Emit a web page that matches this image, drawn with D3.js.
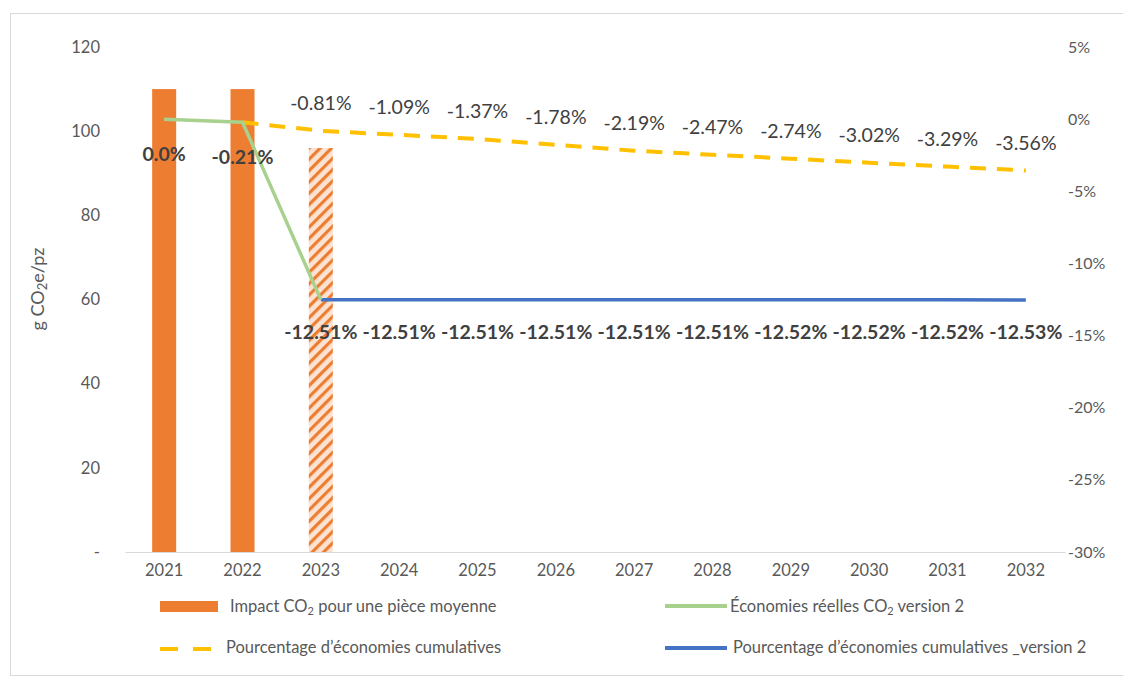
<!DOCTYPE html>
<html>
<head>
<meta charset="utf-8">
<script src="https://cdn.jsdelivr.net/npm/d3@7"></script>
<style>
  body { margin: 0; background: #fff; }
  svg { display: block; font-family: Lato, 'Open Sans', sans-serif; }
</style>
</head>
<body>
<svg id="chart" width="1123" height="681"></svg>
<script>
// data
const years = ['2021', '2022', '2023', '2024', '2025', '2026', '2027', '2028', '2029', '2030', '2031', '2032']
const impactYears = ['2021', '2022', '2023']
const impactValues = [110, 110, 96]
const realYears = ['2021', '2022', '2023']
const realSavings = [0.0, -0.21, -12.51]
const realLabels = ['0.0%', '-0.21%']
const cumulYears = ['2022', '2023', '2024', '2025', '2026', '2027', '2028', '2029', '2030', '2031', '2032']
const cumulSavings = [-0.21, -0.81, -1.09, -1.37, -1.78, -2.19, -2.47, -2.74, -3.02, -3.29, -3.56]
const cumul2Years = ['2023', '2024', '2025', '2026', '2027', '2028', '2029', '2030', '2031', '2032']
const cumul2Savings = [-12.51, -12.51, -12.51, -12.51, -12.51, -12.51, -12.52, -12.52, -12.52, -12.53]
const leftTicks = [0, 20, 40, 60, 80, 100, 120]
const rightTicks = [5, 0, -5, -10, -15, -20, -25, -30]

const ORANGE = '#ED7D31'
const GREEN = '#A9D18E'
const YELLOW = '#FFC000'
const BLUE = '#4472C4'
const TICK = '#595959'
const LABEL = '#404040'

const svg = d3.select('#chart')
const margin = { top: 47, right: 58, bottom: 129, left: 125 }
const width = 1123 - margin.left - margin.right
const height = 681 - margin.top - margin.bottom

// chart frame
svg.append('rect')
  .attr('x', 10.5).attr('y', 13.5)
  .attr('width', 1130).attr('height', 662)
  .attr('fill', 'none').attr('stroke', '#d9d9d9')

const defs = svg.append('defs')
const pat = defs.append('pattern')
  .attr('id', 'hatch')
  .attr('patternUnits', 'userSpaceOnUse')
  .attr('width', 8).attr('height', 8)
  .attr('patternTransform', 'rotate(-45)')
pat.append('rect').attr('width', 8).attr('height', 8).attr('fill', '#FBE3D3')
pat.append('rect').attr('width', 8).attr('height', 3.2).attr('fill', ORANGE)

const g = svg.append('g')
  .attr('transform', 'translate(' + margin.left + ',' + margin.top + ')')

const x = d3.scaleBand().domain(years).range([0, width])
const yL = d3.scaleLinear().domain([0, 120]).range([height, 0])
const yR = d3.scaleLinear().domain([-30, 5]).range([height, 0])
const cx = d => x(d) + x.bandwidth() / 2

// axes
const xAxis = g.append('g')
  .attr('transform', 'translate(0,' + height + ')')
  .call(d3.axisBottom(x).tickSize(0).tickPadding(12))
xAxis.select('.domain').attr('stroke', '#d9d9d9')
xAxis.selectAll('text').attr('font-size', 16.5).attr('fill', TICK).attr('font-family', 'Lato')

const leftAxis = g.append('g')
  .attr('transform', 'translate(-25,0)')
  .call(d3.axisLeft(yL).tickValues(leftTicks).tickSize(0).tickPadding(0)
    .tickFormat(d => d === 0 ? '-' : d))
leftAxis.select('.domain').remove()
leftAxis.selectAll('text').attr('font-size', 16.5).attr('fill', TICK).attr('font-family', 'Lato')

const rightAxis = g.append('g')
  .attr('transform', 'translate(' + (width + 3) + ',0)')
  .call(d3.axisRight(yR).tickValues(rightTicks).tickSize(0).tickPadding(0)
    .tickFormat(d => d + '%'))
rightAxis.select('.domain').remove()
rightAxis.selectAll('text').attr('font-size', 16).attr('fill', TICK).attr('font-family', 'Lato')

svg.append('text')
  .attr('transform', 'translate(44,289) rotate(-90)')
  .attr('text-anchor', 'middle')
  .attr('font-size', 18).attr('fill', TICK)
  .html('g CO<tspan font-size="13" dy="3">2</tspan><tspan dy="-3">e/pz</tspan>')

// bars
const barW = 24
g.selectAll('.bar')
  .data(impactYears.map((d, i) => ({ year: d, value: impactValues[i] })))
  .enter().append('rect')
  .attr('x', d => cx(d.year) - barW / 2)
  .attr('y', d => yL(d.value))
  .attr('width', barW)
  .attr('height', d => height - yL(d.value))
  .attr('fill', d => d.year === '2023' ? 'url(#hatch)' : ORANGE)

// lines
const line = d3.line().x(d => cx(d.year)).y(d => yR(d.value))
const zip = (ks, vs) => ks.map((k, i) => ({ year: k, value: vs[i] }))

g.append('path')
  .datum(zip(cumulYears, cumulSavings))
  .attr('d', line).attr('fill', 'none')
  .attr('stroke', YELLOW).attr('stroke-width', 4)
  .attr('stroke-dasharray', '16,11')

g.append('path')
  .datum(zip(cumul2Years, cumul2Savings))
  .attr('d', line).attr('fill', 'none')
  .attr('stroke', BLUE).attr('stroke-width', 3.5)

g.append('path')
  .datum(zip(realYears, realSavings))
  .attr('d', line).attr('fill', 'none')
  .attr('stroke', GREEN).attr('stroke-width', 3.5)

// data labels
const fmt = v => v.toFixed(2) + '%'

g.selectAll('.lab-cumul')
  .data(zip(cumulYears, cumulSavings).slice(1))
  .enter().append('text')
  .attr('x', d => cx(d.year))
  .attr('y', d => yR(d.value) - 21)
  .attr('text-anchor', 'middle')
  .attr('font-size', 19.5).attr('fill', LABEL)
  .text(d => fmt(d.value))

g.selectAll('.lab-cumul2')
  .data(zip(cumul2Years, cumul2Savings))
  .enter().append('text')
  .attr('x', d => cx(d.year))
  .attr('y', d => yR(d.value) + 39)
  .attr('text-anchor', 'middle')
  .attr('font-size', 19.5).attr('font-weight', 'bold').attr('fill', LABEL)
  .text(d => fmt(d.value))

g.selectAll('.lab-real')
  .data(zip(realYears, realSavings).slice(0, 2))
  .enter().append('text')
  .attr('x', d => cx(d.year))
  .attr('y', d => yR(d.value) + 42)
  .attr('text-anchor', 'middle')
  .attr('font-size', 19.5).attr('font-weight', 'bold').attr('fill', LABEL)
  .text((d, i) => realLabels[i])

// legend
const legend = svg.append('g').attr('font-size', 16.5).attr('fill', TICK)

legend.append('rect').attr('x', 160).attr('y', 601).attr('width', 58).attr('height', 11).attr('fill', ORANGE)
legend.append('text').attr('x', 230).attr('y', 612)
  .html('Impact CO<tspan font-size="11" dy="3">2</tspan><tspan dy="-3"> pour une pièce moyenne</tspan>')

legend.append('line').attr('x1', 665).attr('x2', 727).attr('y1', 606).attr('y2', 606)
  .attr('stroke', GREEN).attr('stroke-width', 4)
legend.append('text').attr('x', 730).attr('y', 612)
  .html('Économies réelles CO<tspan font-size="11" dy="3">2</tspan><tspan dy="-3"> version 2</tspan>')

legend.append('line').attr('x1', 160).attr('x2', 211).attr('y1', 649).attr('y2', 649)
  .attr('stroke', YELLOW).attr('stroke-width', 4).attr('stroke-dasharray', '18,15')
legend.append('text').attr('x', 226).attr('y', 653).text('Pourcentage d’économies cumulatives')

legend.append('line').attr('x1', 665).attr('x2', 727).attr('y1', 648).attr('y2', 648)
  .attr('stroke', BLUE).attr('stroke-width', 4)
legend.append('text').attr('x', 733).attr('y', 653).text('Pourcentage d’économies cumulatives _version 2')
</script>
</body>
</html>
